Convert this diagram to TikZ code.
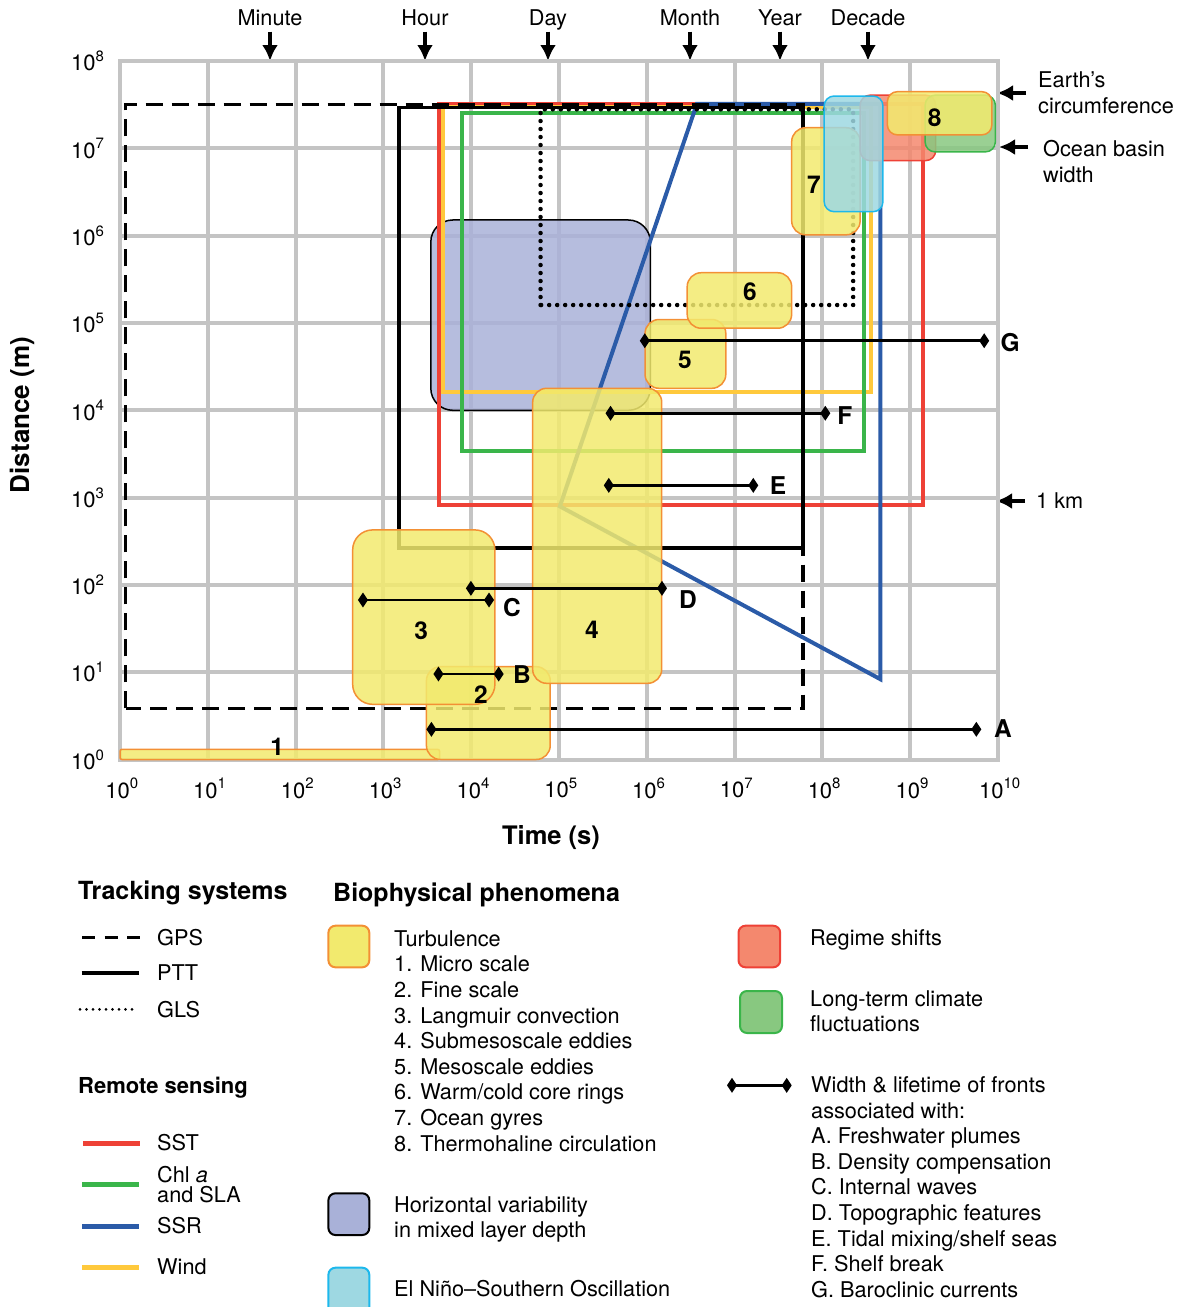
\documentclass[tikz,border=0pt]{standalone}
\usepackage{fontspec}
\setmainfont{TeX Gyre Heros}
\usetikzlibrary{arrows.meta, positioning}

\definecolor{gridgrey}{HTML}{C4C4C4}
\definecolor{sstred}{HTML}{EE4136}
\definecolor{chlgreen}{HTML}{3AB54A}
\definecolor{ssrblue}{HTML}{2B5BA8}
\definecolor{windyellow}{HTML}{FFC93C}
\definecolor{turbfill}{HTML}{F2EA6E}
\definecolor{turbedge}{HTML}{F39035}
\definecolor{mldfill}{HTML}{A9B1D8}
\definecolor{regimefill}{HTML}{F4886E}
\definecolor{climfill}{HTML}{88C880}
\definecolor{ensofill}{HTML}{9ED8E2}
\definecolor{ensoedge}{HTML}{1DB8EC}

\newcommand{\tenpow}[1]{10\raisebox{0.42em}{\fontsize{15}{15}\selectfont #1}}

\begin{document}
\begin{tikzpicture}[
    x=1pt, y=1pt,
    every node/.style={inner sep=0pt, font=\fontsize{21.7}{25.6}\selectfont},
    headlabel/.style={font=\bfseries\fontsize{25}{28}\selectfont},
    numlabel/.style={font=\bfseries\fontsize{24.5}{24}\selectfont},
    ticklabel/.style={font=\fontsize{22}{22}\selectfont},
    gridline/.style={draw=gridgrey, line width=4pt, line cap=rect},
    markarrow/.style={line width=3.5pt, -{Latex[length=16pt, width=16pt]}},
    gpsline/.style={line width=3.5pt, dash pattern=on 17pt off 9pt},
    pttline/.style={line width=3.5pt},
    glsline/.style={line width=4.5pt, line cap=round, dash pattern=on 0pt off 8pt},
    sstline/.style={draw=sstred, line width=4pt},
    chlline/.style={draw=chlgreen, line width=4pt},
    ssrline/.style={draw=ssrblue, line width=4pt, line join=miter},
    windline/.style={draw=windyellow, line width=4pt},
    turbbox/.style={fill=turbfill, fill opacity=0.85, draw=turbedge, line width=1.5pt, rounded corners=14pt},
    mldbox/.style={fill=mldfill, fill opacity=0.85, draw=black, line width=1.5pt, rounded corners=22pt},
    regimebox/.style={fill=regimefill, fill opacity=0.85, draw=sstred, line width=1.5pt, rounded corners=10pt},
    climbox/.style={fill=climfill, fill opacity=0.85, draw=chlgreen, line width=1.5pt, rounded corners=10pt},
    ensobox/.style={fill=ensofill, fill opacity=0.85, draw=ensoedge, line width=1.5pt, rounded corners=10pt},
    frontline/.style={line width=2.5pt, {Diamond[length=10pt, width=15pt]}-{Diamond[length=10pt, width=15pt]}},
    swatch/.style={line width=2pt, rounded corners=7pt}
]
    \useasboundingbox (0,0) rectangle (1187,-1307);

    % time scale markers
    \node[anchor=base] (minute) at (270,-25.7) {Minute};
    \node[anchor=base] (hour) at (425,-25.7) {Hour};
    \node[anchor=base] (day) at (548,-25.7) {Day};
    \node[anchor=base] (month) at (690,-25.7) {Month};
    \node[anchor=base] (year) at (780,-25.7) {Year};
    \node[anchor=base] (decade) at (868,-25.7) {Decade};
    \coordinate (minute tip) at (270,-61);
    \coordinate (hour tip) at (425,-61);
    \coordinate (day tip) at (548,-61);
    \coordinate (month tip) at (690,-61);
    \coordinate (year tip) at (780,-61);
    \coordinate (decade tip) at (868,-61);
    \draw[markarrow] ([yshift=-6pt]minute.base) -- (minute tip);
    \draw[markarrow] ([yshift=-6pt]hour.base) -- (hour tip);
    \draw[markarrow] ([yshift=-6pt]day.base) -- (day tip);
    \draw[markarrow] ([yshift=-6pt]month.base) -- (month tip);
    \draw[markarrow] ([yshift=-6pt]year.base) -- (year tip);
    \draw[markarrow] ([yshift=-6pt]decade.base) -- (decade tip);

    % distance markers
    \node[anchor=west, align=left] (earth) at (1038,-92.5) {Earth’s\\circumference};
    \node[anchor=north west, align=left] (basin) at (1043,-140.5) {Ocean basin\\width};
    \node[anchor=base west] (km) at (1036,-508.4) {1 km};
    \coordinate (earth tail) at (1026,-93);
    \coordinate (earth tip) at (997,-93);
    \coordinate (basin tail) at (1028,-147);
    \coordinate (basin tip) at (999,-147);
    \coordinate (km tail) at (1025,-501);
    \coordinate (km tip) at (996,-501);
    \draw[markarrow] (earth tail) -- (earth tip);
    \draw[markarrow] (basin tail) -- (basin tip);
    \draw[markarrow] (km tail) -- (km tip);

    % axis titles
    \node[headlabel, anchor=base, font=\bfseries\fontsize{25.5}{28}\selectfont] (time title) at (551,-844) {Time (s)};
    \node[headlabel, rotate=90, font=\bfseries\fontsize{26}{28}\selectfont] (dist title) at (22,-415) {Distance (m)};

    % the log-log plot, one unit = one decade
    \begin{scope}[shift={(120,-759.5)}, x=87.8pt, y=87.3pt]
        \foreach \e in {0,...,10} \draw[gridline] (\e,0) -- (\e,8);
        \foreach \e in {0,...,8} \draw[gridline] (0,\e) -- (10,\e);
        \foreach \e in {0,...,8} \node[ticklabel, anchor=east] (dist\e) at (-0.18,\e) {\tenpow{\e}};
        \foreach \e in {0,...,10} \node[ticklabel] (time\e) at (\e+0.02,-0.33) {\tenpow{\e}};

        % mixed layer depth
        \draw[mldbox] (3.54,4.00) rectangle (6.04,6.18);

        % remote sensing
        \draw[sstline] (3.63,2.91) rectangle (9.15,7.51);
        \draw[windline] (3.68,4.206) rectangle (8.55,7.47);
        \draw[chlline] (3.90,3.537) rectangle (8.47,7.40);
        \draw[ssrline] (6.57,7.51) -- (5.01,2.90) -- (8.66,0.92) -- (8.66,7.51) -- cycle;

        % tracking systems
        \draw[pttline] (3.18,2.42) rectangle (7.78,7.47);
        \draw[gpsline] (0.063,0.586) rectangle (7.78,7.505);
        \draw[glsline] (4.79,5.206) rectangle (8.35,7.448);

        % biophysical phenomena
        \draw[turbbox, rounded corners=2pt] (0,0) rectangle (3.64,0.117);
        \draw[turbbox] (3.49,0) rectangle (4.90,1.063);
        \draw[turbbox, rounded corners=20pt] (2.65,0.632) rectangle (4.27,2.63);
        \draw[turbbox] (4.70,0.873) rectangle (6.17,4.252);
        \draw[turbbox] (5.98,4.252) rectangle (6.90,5.04);
        \draw[turbbox] (6.46,4.94) rectangle (7.65,5.576);
        \draw[turbbox] (7.65,6.01) rectangle (8.43,7.237);
        \draw[regimebox] (8.43,6.86) rectangle (9.29,7.61);
        \draw[ensobox] (8.02,6.275) rectangle (8.69,7.60);
        \draw[climbox] (9.17,6.96) rectangle (9.97,7.61);
        \draw[turbbox, rounded corners=10pt] (8.74,7.155) rectangle (9.93,7.65);

        \node[numlabel] (n1) at (1.79,0.143) {1};
        \node[numlabel] (n2) at (4.11,0.739) {2};
        \node[numlabel] (n3) at (3.43,1.47) {3};
        \node[numlabel] (n4) at (5.376,1.483) {4};
        \node[numlabel] (n5) at (6.435,4.576) {5};
        \node[numlabel] (n6) at (7.175,5.355) {6};
        \node[numlabel] (n7) at (7.904,6.58) {7};
        \node[numlabel] (n8) at (9.28,7.35) {8};

        % fronts
        \coordinate (A1) at (3.49,0.346); \coordinate (A2) at (9.81,0.346);
        \coordinate (B1) at (3.57,0.979); \coordinate (B2) at (4.37,0.979);
        \coordinate (C1) at (2.71,1.827); \coordinate (C2) at (4.26,1.827);
        \coordinate (D1) at (3.94,1.961); \coordinate (D2) at (6.23,1.961);
        \coordinate (E1) at (5.51,3.14); \coordinate (E2) at (7.27,3.14);
        \coordinate (F1) at (5.53,3.966); \coordinate (F2) at (8.09,3.966);
        \coordinate (G1) at (5.92,4.797); \coordinate (G2) at (9.90,4.797);
        \draw[frontline] (A1) -- (A2);
        \draw[frontline] (B1) -- (B2);
        \draw[frontline] (C1) -- (C2);
        \draw[frontline] (D1) -- (D2);
        \draw[frontline] (E1) -- (E2);
        \draw[frontline] (F1) -- (F2);
        \draw[frontline] (G1) -- (G2);
        \node[numlabel] (labA) at (10.057,0.349) {A};
        \node[numlabel] (labB) at (4.578,0.968) {B};
        \node[numlabel] (labC) at (4.465,1.735) {C};
        \node[numlabel] (labD) at (6.469,1.827) {D};
        \node[numlabel] (labE) at (7.494,3.133) {E};
        \node[numlabel] (labF) at (8.257,3.935) {F};
        \node[numlabel] (labG) at (10.137,4.771) {G};
    \end{scope}

    % legend: tracking systems and remote sensing
    \node[headlabel, anchor=base west] (tracking) at (78,-899.8) {Tracking systems};
    \draw[gpsline, line width=3pt, dash pattern=on 13pt off 9.5pt] (82,-937.7) -- (140,-937.7);
    \node[anchor=base west] (gps) at (157,-945.4) {GPS};
    \draw[pttline, line width=4pt] (81.5,-973) -- (138.5,-973);
    \node[anchor=base west] (ptt) at (157,-980.5) {PTT};
    \draw[glsline, line width=3pt, dash pattern=on 0pt off 6.5pt] (80,-1009.3) -- (136.6,-1009.3);
    \node[anchor=base west] (gls) at (157,-1017.7) {GLS};

    \node[anchor=base west, font=\bfseries\fontsize{22}{26}\selectfont] (remote) at (78,-1093) {Remote sensing};
    \draw[sstline, line width=5pt] (83,-1143) -- (140,-1143);
    \node[anchor=base west] (sst) at (157,-1150.7) {SST};
    \draw[chlline, line width=5pt] (82,-1184) -- (138.5,-1184);
    \node[anchor=north west, align=left] (chl) at (157,-1166.5) {Chl \textit{a}\\[-6.5pt]and SLA};
    \draw[ssrline, line width=5pt] (82,-1226.3) -- (138.5,-1226.3);
    \node[anchor=base west] (ssr) at (157,-1233.7) {SSR};
    \draw[windline, line width=5pt] (82,-1267.3) -- (138.5,-1267.3);
    \node[anchor=base west] (wind) at (157,-1274.7) {Wind};

    % legend: biophysical phenomena
    \node[headlabel, anchor=base west] (biophys) at (333,-901.8) {Biophysical phenomena};
    \draw[swatch, fill=turbfill, draw=turbedge] (328.4,-925.7) rectangle (369.3,-967.3);
    \node[anchor=north west, align=left] (turb) at (394,-930.3) {Turbulence\\1. Micro scale\\2. Fine scale\\3. Langmuir convection\\4. Submesoscale eddies\\5. Mesoscale eddies\\6. Warm/cold core rings\\7. Ocean gyres\\8. Thermohaline circulation};
    \draw[swatch, fill=mldfill, draw=black] (328.4,-1193.3) rectangle (369.3,-1235);
    \node[anchor=north west, align=left] (mld) at (394,-1196.3) {Horizontal variability\\in mixed layer depth};
    \draw[swatch, fill=ensofill, draw=ensoedge] (328.4,-1267.7) rectangle (369.3,-1314);
    \node[anchor=base west] (enso) at (394,-1296.7) {El Niño–Southern Oscillation};

    \draw[swatch, fill=regimefill, draw=sstred] (738.5,-925.7) rectangle (780.2,-967.3);
    \node[anchor=base west] (regime) at (810,-945.7) {Regime shifts};
    \draw[swatch, fill=climfill, draw=chlgreen] (740,-991) rectangle (782,-1033);
    \node[anchor=north west, align=left] (clim) at (810,-990.3) {Long-term climate\\fluctuations};
    \draw[frontline] (727,-1085.3) -- (791.7,-1085.3);
    \node[anchor=north west, align=left] (fronts) at (811,-1076.3) {Width \& lifetime of fronts\\associated with:\\A. Freshwater plumes\\B. Density compensation\\C. Internal waves\\D. Topographic features\\E. Tidal mixing/shelf seas\\F. Shelf break\\G. Baroclinic currents};
\end{tikzpicture}
\end{document}
